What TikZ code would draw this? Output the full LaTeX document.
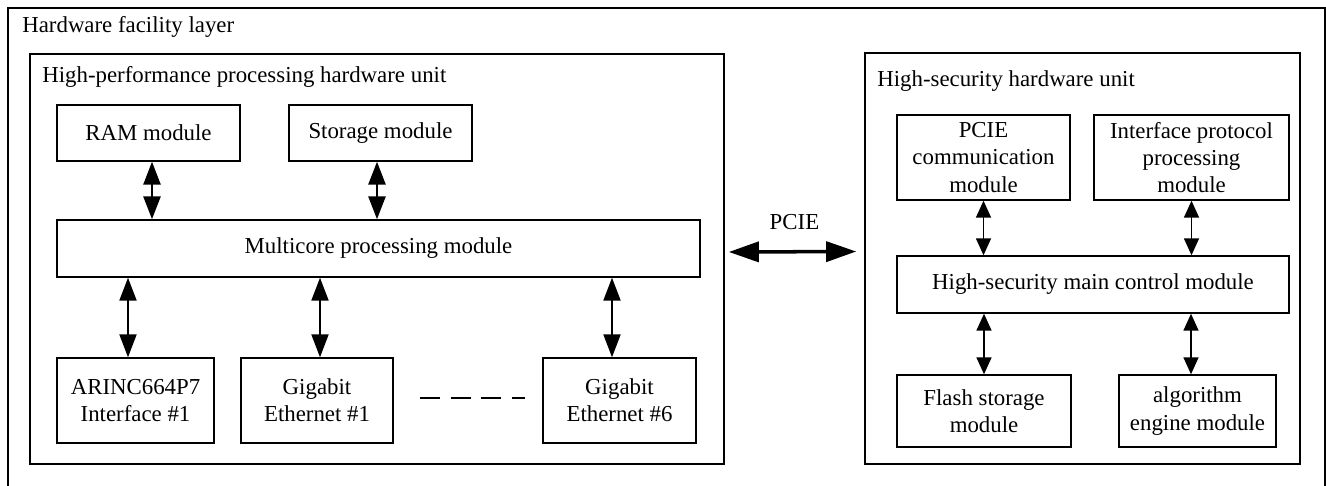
\documentclass[tikz,border=0pt]{standalone}
\usepackage{fontspec}
\setmainfont{Liberation Serif}
\usetikzlibrary{arrows.meta,positioning}

\begin{document}
\begin{tikzpicture}[x=0.02cm, y=-0.02cm, font=\fontsize{13}{15.5}\selectfont,
 module node/.style={draw, line width=0.8pt, align=center, inner sep=0pt},
 unit node/.style={draw, line width=1pt, inner sep=0pt},
 title node/.style={anchor=base west, inner sep=0pt},
 thick arrow/.style={{Triangle[length=0.46cm,width=0.34cm]}-{Triangle[length=0.46cm,width=0.34cm]}, line width=1.5pt},
 thin arrow/.style={{Triangle[length=0.34cm,width=0.3cm]}-{Triangle[length=0.34cm,width=0.3cm]}, line width=0.9pt},
 pcie arrow/.style={{Triangle[length=0.6cm,width=0.4cm]}-{Triangle[length=0.6cm,width=0.4cm]}, line width=2pt}]
\useasboundingbox (0,0) rectangle (1326,486);
\draw[line width=1pt] (8,495) -- (8,8) -- (1325,8) -- (1325,495);
\node[title node] (layer) at (22,33) {Hardware facility layer};

% high-performance unit
\node[unit node, minimum width=13.88cm, minimum height=8.2cm] (hpu) at (377,259) {};
\node[title node] (hputitle) at (42,83) {High-performance processing hardware unit};
\node[module node, minimum width=3.66cm, minimum height=1.12cm] (ram) at (148.5,133) {RAM module};
\node[module node, minimum width=3.66cm, minimum height=1.12cm] (storage) at (380.5,133) {Storage module};
\node[module node, minimum width=12.86cm, minimum height=1.14cm] (multi) at (378.5,248.5) {Multicore processing module};
\node[module node, minimum width=3.14cm, minimum height=1.7cm] (arinc) at (135.5,400.5) {ARINC664P7\\Interface \#1};
\node[module node, minimum width=3.04cm, minimum height=1.7cm] (gig1) at (317,400.5) {Gigabit\\Ethernet \#1};
\node[module node, minimum width=3.06cm, minimum height=1.7cm] (gig6) at (619.5,400.5) {Gigabit\\Ethernet \#6};
\coordinate (d1) at (420,398);
\coordinate (d2) at (525,398);

\draw[thick arrow] ([xshift=0.07cm]ram.south) -- ([xshift=0.07cm]ram.south |- multi.north);
\draw[thick arrow] ([xshift=-0.07cm]storage.south) -- ([xshift=-0.07cm]storage.south |- multi.north);
\draw[thick arrow, line width=1.2pt] ([xshift=-0.15cm]arinc.north) -- ([xshift=-0.15cm]arinc.north |- multi.south);
\draw[thick arrow, line width=1.2pt] ([xshift=0.06cm]gig1.north) -- ([xshift=0.06cm]gig1.north |- multi.south);
\draw[thick arrow, line width=1.2pt] ([xshift=-0.15cm]gig6.north) -- ([xshift=-0.15cm]gig6.north |- multi.south);
\draw[line width=1.5pt, dash pattern=on 11.3pt off 6.2pt] (d1) -- (d2);

% high-security unit
\node[unit node, minimum width=8.7cm, minimum height=8.22cm] (hsu) at (1082.5,258.5) {};
\node[title node] (hsutitle) at (877,87) {High-security hardware unit};
\node[module node, minimum width=3.46cm, minimum height=1.7cm] (pcomm) at (983.5,157.5) {PCIE\\communication\\module};
\node[module node, minimum width=3.9cm, minimum height=1.7cm] (iface) at (1191.5,157.5) {Interface protocol\\processing\\module};
\node[module node, minimum width=7.84cm, minimum height=1.14cm] (mainctl) at (1093,284.5) {High-security main control module};
\node[module node, minimum width=3.48cm, minimum height=1.44cm] (flash) at (984,411) {Flash storage\\module};
\node[module node, minimum width=3.14cm, minimum height=1.44cm] (algo) at (1197.5,411) {algorithm\\engine module};

\draw[thin arrow] (pcomm.south) -- (pcomm.south |- mainctl.north);
\draw[thin arrow] (iface.south) -- (iface.south |- mainctl.north);
\draw[thin arrow] (flash.north) -- (flash.north |- mainctl.south);
\draw[thin arrow] ([xshift=-0.13cm]algo.north) -- ([xshift=-0.13cm]algo.north |- mainctl.south);

% link between units
\draw[pcie arrow, shorten <=0.08cm, shorten >=0.16cm] ([yshift=0.14cm]hpu.east) -- ([yshift=0.14cm]hsu.west)
  node[midway, yshift=0.6cm] (pcie) {PCIE};
\end{tikzpicture}
\end{document}
